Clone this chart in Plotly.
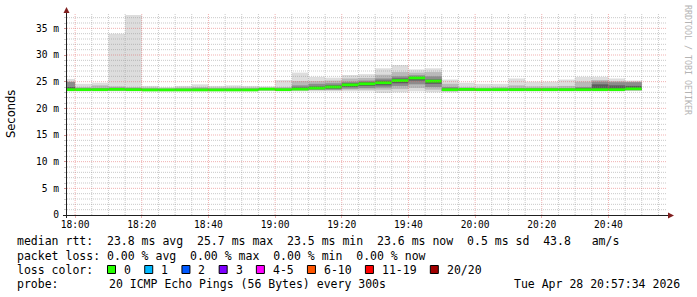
import numpy as np
import pandas as pd
import plotly.graph_objects as go

# ---------------- data (ms) ----------------
bin_start = [
    "2026-04-28 17:55", "2026-04-28 18:00", "2026-04-28 18:05", "2026-04-28 18:10",
    "2026-04-28 18:15", "2026-04-28 18:20", "2026-04-28 18:25", "2026-04-28 18:30",
    "2026-04-28 18:35", "2026-04-28 18:40", "2026-04-28 18:45", "2026-04-28 18:50",
    "2026-04-28 18:55", "2026-04-28 19:00", "2026-04-28 19:05", "2026-04-28 19:10",
    "2026-04-28 19:15", "2026-04-28 19:20", "2026-04-28 19:25", "2026-04-28 19:30",
    "2026-04-28 19:35", "2026-04-28 19:40", "2026-04-28 19:45", "2026-04-28 19:50",
    "2026-04-28 19:55", "2026-04-28 20:00", "2026-04-28 20:05", "2026-04-28 20:10",
    "2026-04-28 20:15", "2026-04-28 20:20", "2026-04-28 20:25", "2026-04-28 20:30",
    "2026-04-28 20:35", "2026-04-28 20:40", "2026-04-28 20:45",
]
median_rtt = [23.5, 23.5, 23.5, 23.55, 23.5, 23.45, 23.45, 23.45, 23.45, 23.45, 23.45, 23.45,
              23.6, 23.5, 23.6, 23.8, 24.0, 24.4, 24.6, 24.8, 25.2, 25.7, 25.1, 23.5,
              23.55, 23.5, 23.5, 23.5, 23.5, 23.5, 23.5, 23.5, 23.5, 23.5, 23.65]
ping_max = [25.5, 24.6, 24.8, 34.0, 37.5, 24.2, 24.0, 24.2, 24.5, 24.2, 24.3, 24.2,
            24.1, 25.3, 26.7, 25.9, 25.75, 26.25, 26.4, 27.5, 28.1, 27.3, 27.5, 25.4,
            24.8, 24.6, 24.6, 25.6, 25.0, 25.0, 25.4, 25.9, 25.9, 25.6, 25.2]
ping_hi2 = [25.0, 24.0, 24.3, 24.1, 24.0, 23.9, 23.8, 23.9, 24.0, 23.9, 23.9, 23.9,
            23.9, 24.0, 25.1, 25.1, 25.2, 25.6, 25.7, 26.3, 26.8, 26.7, 26.8, 24.6,
            24.0, 23.9, 24.0, 24.3, 24.1, 24.1, 24.2, 25.0, 25.3, 25.1, 25.0]
ping_hi3 = [24.95, 23.8, 23.8, 23.9, 23.8, 23.7, 23.65, 23.7, 23.75, 23.7, 23.7, 23.7,
            23.8, 23.75, 24.3, 24.6, 24.7, 25.0, 25.2, 25.6, 26.0, 26.2, 26.0, 24.0,
            23.7, 23.7, 23.7, 23.8, 23.8, 23.8, 23.8, 24.0, 25.0, 24.9, 24.9]
ping_hi4 = [24.0, 23.6, 23.6, 23.7, 23.6, 23.55, 23.55, 23.55, 23.6, 23.55, 23.55, 23.55,
            23.7, 23.6, 23.9, 24.1, 24.3, 24.7, 24.9, 25.2, 25.6, 25.9, 25.4, 23.7,
            23.6, 23.6, 23.6, 23.6, 23.6, 23.6, 23.6, 23.7, 24.5, 24.3, 24.2]
ping_lo4 = [23.4, 23.45, 23.45, 23.45, 23.45, 23.4, 23.4, 23.4, 23.4, 23.4, 23.4, 23.4,
            23.5, 23.45, 23.5, 23.6, 23.7, 24.0, 24.2, 24.3, 24.7, 25.2, 24.6, 23.4,
            23.45, 23.45, 23.45, 23.45, 23.45, 23.45, 23.45, 23.45, 23.45, 23.45, 23.5]
ping_lo3 = [23.35, 23.4, 23.4, 23.4, 23.4, 23.35, 23.35, 23.35, 23.35, 23.35, 23.35, 23.35,
            23.45, 23.4, 23.45, 23.5, 23.5, 23.7, 23.8, 23.9, 24.2, 24.5, 24.0, 23.3,
            23.4, 23.4, 23.4, 23.4, 23.4, 23.4, 23.4, 23.4, 23.4, 23.4, 23.45]
ping_lo2 = [23.3, 23.3, 23.3, 23.3, 23.3, 23.3, 23.3, 23.3, 23.3, 23.3, 23.3, 23.3,
            23.35, 23.3, 23.35, 23.4, 23.4, 23.5, 23.5, 23.5, 23.6, 23.8, 23.5, 23.2,
            23.3, 23.3, 23.3, 23.3, 23.3, 23.3, 23.3, 23.3, 23.3, 23.3, 23.35]
ping_min = [23.2, 23.2, 23.2, 23.2, 23.2, 23.2, 23.2, 23.2, 23.2, 23.2, 23.2, 23.2,
            23.25, 23.2, 23.2, 23.2, 23.2, 23.2, 23.2, 22.9, 23.0, 23.2, 23.0, 23.0,
            23.2, 23.2, 23.2, 23.2, 23.2, 23.2, 23.2, 23.2, 23.2, 23.2, 23.25]

y_tick_vals = [0, 5, 10, 15, 20, 25, 30, 35]
y_tick_text = ["0", "5 m", "10 m", "15 m", "20 m", "25 m", "30 m", "35 m"]

loss_labels = ["0", "1", "2", "3", "4-5", "6-10", "11-19", "20/20"]
loss_colors = ["#26ff00", "#00b8ff", "#0059ff", "#7e00ff", "#ff00ff", "#ff5500", "#ff0000", "#a10000"]

line_rtt = "median rtt:  23.8 ms avg  25.7 ms max  23.5 ms min  23.6 ms now  0.5 ms sd  43.8   am/s"
line_loss = "packet loss: 0.00 % avg  0.00 % max  0.00 % min  0.00 % now"
probe_label = "probe:"
probe_text = "20 ICMP Echo Pings (56 Bytes) every 300s"
stamp_text = "Tue Apr 28 20:57:34 2026"

# ---------------- layout constants ----------------
W, H = 697, 297
L, R, T, B = 67, 667, 13, 215
X0 = pd.Timestamp("2026-04-28 17:57:34")
X1 = pd.Timestamp("2026-04-28 20:57:34")
Y_MAX = 37.875
MED_H = 0.52
MONO = "DejaVu Sans Mono"
GRID_C = "rgba(143,143,143,0.48)"
MGRID_C = "rgba(222,79,79,0.45)"
AXIS_C = "rgb(31,31,31)"
ARROW_C = "rgb(128,31,31)"


def px(xp):
    return (xp - L) / (R - L)


def py(yp):
    return (B - yp) / (B - T)


def nb(s):
    return s.replace(" ", "\u00a0")


x = pd.to_datetime(bin_start)
fig = go.Figure()

bands = [
    (ping_min, ping_max, "#dddddd"),
    (ping_lo2, ping_hi2, "#b9b9b9"),
    (ping_lo3, ping_hi3, "#8c8c8c"),
    (ping_lo4, ping_hi4, "#5c5c5c"),
]
for lo, hi, col in bands:
    lo = np.array(lo)
    hi = np.array(hi)
    fig.add_trace(go.Bar(x=x, y=hi - lo, base=lo, width=300000, offset=0,
                         marker=dict(color=col, line=dict(width=0)),
                         hoverinfo="skip", showlegend=False))

med = np.array(median_rtt)
fig.add_trace(go.Bar(x=x, y=np.full(len(med), MED_H), base=med - MED_H / 2,
                     width=300000, offset=0,
                     marker=dict(color=loss_colors[0], line=dict(width=0)),
                     hoverinfo="skip", showlegend=False))

shapes = []
# grid (drawn above the smoke, as rrdtool does)
for t in pd.date_range("2026-04-28 18:00", "2026-04-28 20:55", freq="5min"):
    major = (t.minute % 20 == 0)
    shapes.append(dict(type="line", xref="x", yref="paper", x0=t, x1=t, y0=0, y1=1,
                       layer="above",
                       line=dict(color=MGRID_C if major else GRID_C, width=1, dash="1px,1px")))
for v in range(1, 38):
    major = (v % 5 == 0)
    shapes.append(dict(type="line", xref="paper", yref="y", x0=0, x1=1, y0=v, y1=v,
                       layer="above",
                       line=dict(color=MGRID_C if major else GRID_C, width=1, dash="1px,1px")))
# axes
shapes.append(dict(type="line", xref="paper", yref="paper", x0=px(66.5), x1=px(66.5),
                   y0=py(218), y1=py(11), layer="above", line=dict(color=AXIS_C, width=1)))
shapes.append(dict(type="line", xref="paper", yref="paper", x0=px(63), x1=px(670),
                   y0=py(215.5), y1=py(215.5), layer="above", line=dict(color=AXIS_C, width=1)))
# arrows
shapes.append(dict(type="path", xref="paper", yref="paper", layer="above",
                   path=f"M {px(63.5)},{py(13)} L {px(69.5)},{py(13)} L {px(66.5)},{py(7)} Z",
                   fillcolor=ARROW_C, line=dict(width=0)))
shapes.append(dict(type="path", xref="paper", yref="paper", layer="above",
                   path=f"M {px(668)},{py(212.5)} L {px(668)},{py(218.5)} L {px(674)},{py(215.5)} Z",
                   fillcolor=ARROW_C, line=dict(width=0)))

annotations = []


def ann(text, xp, yp, size=11.5, xanchor="left", color="black", angle=0, family=MONO):
    annotations.append(dict(text=nb(text), x=px(xp), y=py(yp), xref="paper", yref="paper",
                            xanchor=xanchor, yanchor="middle", showarrow=False,
                            textangle=angle, borderpad=0,
                            font=dict(family=family, size=size, color=color)))


ann(line_rtt, 16, 241.5)
ann(line_loss, 16, 255.5)
ann("loss color:", 16, 269.5)
ann(probe_label, 16, 283.5)
ann(probe_text, 107.5, 283.5)
ann(stamp_text, 681, 283.5, xanchor="right")
ann("Seconds", 11, 114, size=11.5, family="DejaVu Sans", angle=-90, xanchor="center")
ann("RRDTOOL / TOBI OETIKER", 688, 60, size=8.3, color="#b4b4b4", angle=90, xanchor="center")

CW = 6.92
bx = 107.5
for lab, col in zip(loss_labels, loss_colors):
    shapes.append(dict(type="rect", xref="paper", yref="paper",
                       x0=px(bx), x1=px(bx + 8), y0=py(273.5), y1=py(265.5),
                       fillcolor=col, line=dict(color="black", width=1)))
    ann(lab, bx + 15.5, 269.5)
    bx = bx + 15.5 + len(lab) * CW + 14.8

fig.update_layout(
    width=W, height=H,
    margin=dict(l=L, r=W - R, t=T, b=H - B, pad=0),
    paper_bgcolor="white", plot_bgcolor="white",
    barmode="overlay", showlegend=False,
    font=dict(family=MONO, size=10, color="black"),
    shapes=shapes, annotations=annotations,
    xaxis=dict(type="date", range=[X0, X1], tickformat="%H:%M",
               tick0="2026-04-28 18:00", dtick=1200000,
               showgrid=False, zeroline=False, showline=False,
               ticks="outside", ticklen=2, tickcolor=MGRID_C,
               tickfont=dict(family=MONO, size=9.6, color="black"),
               ticklabelstandoff=-2, fixedrange=True),
    yaxis=dict(range=[0, Y_MAX], tickvals=y_tick_vals, ticktext=y_tick_text,
               showgrid=False, zeroline=False, showline=False,
               ticks="outside", ticklen=2, tickcolor=MGRID_C,
               minor=dict(dtick=1, ticks="outside", ticklen=2, tickcolor=GRID_C, showgrid=False),
               tickfont=dict(family=MONO, size=9.6, color="black"),
               ticklabelstandoff=3, fixedrange=True),
)

fig.write_html("out.html")
